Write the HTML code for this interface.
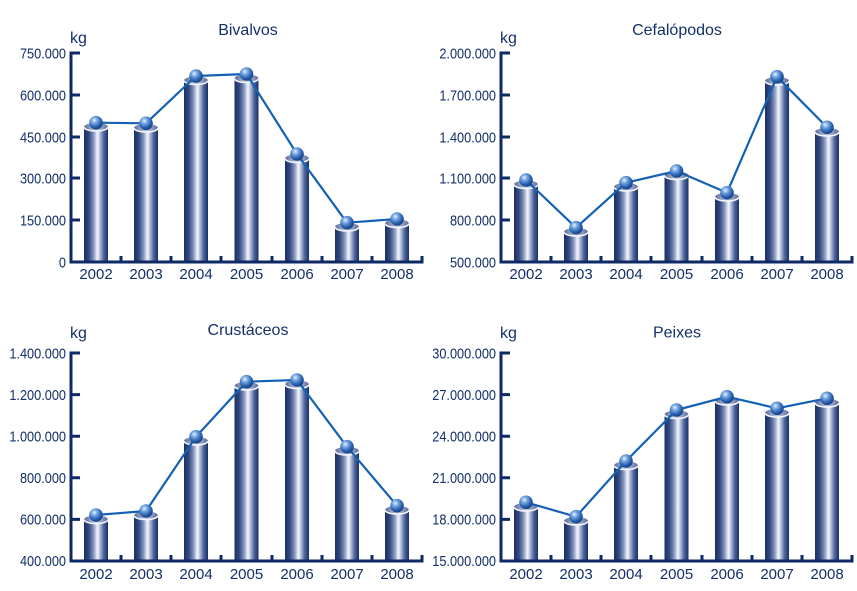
<!DOCTYPE html>
<html><head><meta charset="utf-8"><style>
html,body{margin:0;padding:0;background:#fff;}
svg{display:block;}
text{font-family:"Liberation Sans",Arial,sans-serif;fill:#14306a;}
.yl{font-size:15px;text-anchor:end;}
.xl{font-size:15px;text-anchor:middle;}
.t{font-size:16px;text-anchor:middle;}
.kg{font-size:16px;}
.ax{stroke:#0e2a66;stroke-width:3;fill:none;}
.ln{stroke:#1461b4;stroke-width:2.2;fill:none;stroke-linejoin:round;}
.rim{stroke:#f4f6fb;stroke-width:1.6;fill:none;}
</style></head><body>
<svg width="857" height="591" viewBox="0 0 857 591" xmlns="http://www.w3.org/2000/svg">
<defs>
<linearGradient id="bar" x1="0" y1="0" x2="1" y2="0">
<stop offset="0" stop-color="#1a2f66"/>
<stop offset="0.2" stop-color="#33497f"/>
<stop offset="0.4" stop-color="#8596c0"/>
<stop offset="0.56" stop-color="#f6f8fc"/>
<stop offset="0.64" stop-color="#c4cce2"/>
<stop offset="0.82" stop-color="#4c649c"/>
<stop offset="1" stop-color="#1a2f66"/>
</linearGradient>
<linearGradient id="cap" x1="0" y1="0" x2="1" y2="0">
<stop offset="0" stop-color="#5a6c9c"/>
<stop offset="0.5" stop-color="#c4cbe0"/>
<stop offset="1" stop-color="#5a6c9c"/>
</linearGradient>
<radialGradient id="mk" cx="0.38" cy="0.32" r="0.7">
<stop offset="0" stop-color="#eaf3ff"/>
<stop offset="0.3" stop-color="#78a8e4"/>
<stop offset="0.7" stop-color="#2a62b0"/>
<stop offset="1" stop-color="#123c80"/>
</radialGradient>
</defs>

<!-- ===== Panel 1: Bivalvos ===== -->
<text class="t" x="248" y="35">Bivalvos</text>
<text class="kg" x="70" y="43">kg</text>
<text class="yl" transform="translate(66,58.5) scale(0.85,1)">750.000</text>
<text class="yl" transform="translate(66,100.5) scale(0.85,1)">600.000</text>
<text class="yl" transform="translate(66,142.5) scale(0.85,1)">450.000</text>
<text class="yl" transform="translate(66,183.5) scale(0.85,1)">300.000</text>
<text class="yl" transform="translate(66,225.5) scale(0.85,1)">150.000</text>
<text class="yl" transform="translate(66,267.5) scale(0.85,1)">0</text>
<g>
<rect x="84" y="127" width="24" height="135" fill="url(#bar)"/><ellipse cx="96" cy="127" rx="12" ry="4" fill="url(#cap)"/><path class="rim" d="M84 127 A12 4 0 0 0 108 127"/>
<rect x="134" y="128" width="24" height="134" fill="url(#bar)"/><ellipse cx="146" cy="128" rx="12" ry="4" fill="url(#cap)"/><path class="rim" d="M134 128 A12 4 0 0 0 158 128"/>
<rect x="184" y="80.5" width="24" height="181.5" fill="url(#bar)"/><ellipse cx="196" cy="80.5" rx="12" ry="4" fill="url(#cap)"/><path class="rim" d="M184 80.5 A12 4 0 0 0 208 80.5"/>
<rect x="234.5" y="78.5" width="24" height="183.5" fill="url(#bar)"/><ellipse cx="246.5" cy="78.5" rx="12" ry="4" fill="url(#cap)"/><path class="rim" d="M234.5 78.5 A12 4 0 0 0 258.5 78.5"/>
<rect x="285" y="158.5" width="24" height="103.5" fill="url(#bar)"/><ellipse cx="297" cy="158.5" rx="12" ry="4" fill="url(#cap)"/><path class="rim" d="M285 158.5 A12 4 0 0 0 309 158.5"/>
<rect x="335" y="227" width="24" height="35" fill="url(#bar)"/><ellipse cx="347" cy="227" rx="12" ry="4" fill="url(#cap)"/><path class="rim" d="M335 227 A12 4 0 0 0 359 227"/>
<rect x="385" y="223.5" width="24" height="38.5" fill="url(#bar)"/><ellipse cx="397" cy="223.5" rx="12" ry="4" fill="url(#cap)"/><path class="rim" d="M385 223.5 A12 4 0 0 0 409 223.5"/>
</g>
<path class="ax" d="M80 53 H71 V262 H422 V256 M80 95 H71 M80 137 H71 M80 178 H71 M80 220 H71 M121 262 V256 M171 262 V256 M221 262 V256 M272 262 V256 M322 262 V256 M372 262 V256"/>
<polyline class="ln" points="96,122.7 146,123.3 196,76 246.5,74 297,154 347,222.7 397,219"/>
<g fill="url(#mk)">
<circle cx="96" cy="122.7" r="6.8"/><circle cx="146" cy="123.3" r="6.8"/><circle cx="196" cy="76" r="6.8"/><circle cx="246.5" cy="74" r="6.8"/><circle cx="297" cy="154" r="6.8"/><circle cx="347" cy="222.7" r="6.8"/><circle cx="397" cy="219" r="6.8"/>
</g>
<text class="xl" x="96" y="279">2002</text><text class="xl" x="146" y="279">2003</text><text class="xl" x="196" y="279">2004</text><text class="xl" x="246.5" y="279">2005</text><text class="xl" x="297" y="279">2006</text><text class="xl" x="347" y="279">2007</text><text class="xl" x="397" y="279">2008</text>

<!-- ===== Panel 2: Cefalópodos ===== -->
<text class="t" x="677" y="35">Cefalópodos</text>
<text class="kg" x="500" y="43">kg</text>
<text class="yl" transform="translate(496,58.5) scale(0.85,1)">2.000.000</text>
<text class="yl" transform="translate(496,100.5) scale(0.85,1)">1.700.000</text>
<text class="yl" transform="translate(496,142.5) scale(0.85,1)">1.400.000</text>
<text class="yl" transform="translate(496,183.5) scale(0.85,1)">1.100.000</text>
<text class="yl" transform="translate(496,225.5) scale(0.85,1)">800.000</text>
<text class="yl" transform="translate(496,267.5) scale(0.85,1)">500.000</text>
<g>
<rect x="514" y="184.5" width="24" height="77.5" fill="url(#bar)"/><ellipse cx="526" cy="184.5" rx="12" ry="4" fill="url(#cap)"/><path class="rim" d="M514 184.5 A12 4 0 0 0 538 184.5"/>
<rect x="564" y="232" width="24" height="30" fill="url(#bar)"/><ellipse cx="576" cy="232" rx="12" ry="4" fill="url(#cap)"/><path class="rim" d="M564 232 A12 4 0 0 0 588 232"/>
<rect x="614" y="187" width="24" height="75" fill="url(#bar)"/><ellipse cx="626" cy="187" rx="12" ry="4" fill="url(#cap)"/><path class="rim" d="M614 187 A12 4 0 0 0 638 187"/>
<rect x="664.5" y="175.5" width="24" height="86.5" fill="url(#bar)"/><ellipse cx="676.5" cy="175.5" rx="12" ry="4" fill="url(#cap)"/><path class="rim" d="M664.5 175.5 A12 4 0 0 0 688.5 175.5"/>
<rect x="715" y="197" width="24" height="65" fill="url(#bar)"/><ellipse cx="727" cy="197" rx="12" ry="4" fill="url(#cap)"/><path class="rim" d="M715 197 A12 4 0 0 0 739 197"/>
<rect x="765" y="81" width="24" height="181" fill="url(#bar)"/><ellipse cx="777" cy="81" rx="12" ry="4" fill="url(#cap)"/><path class="rim" d="M765 81 A12 4 0 0 0 789 81"/>
<rect x="815" y="132" width="24" height="130" fill="url(#bar)"/><ellipse cx="827" cy="132" rx="12" ry="4" fill="url(#cap)"/><path class="rim" d="M815 132 A12 4 0 0 0 839 132"/>
</g>
<path class="ax" d="M510 53 H501 V262 H852 V256 M510 95 H501 M510 137 H501 M510 178 H501 M510 220 H501 M551 262 V256 M601 262 V256 M651 262 V256 M702 262 V256 M752 262 V256 M802 262 V256"/>
<polyline class="ln" points="526,180 576,227.7 626,182.7 676.5,171 727,192.7 777,76.7 827,127.3"/>
<g fill="url(#mk)">
<circle cx="526" cy="180" r="6.8"/><circle cx="576" cy="227.7" r="6.8"/><circle cx="626" cy="182.7" r="6.8"/><circle cx="676.5" cy="171" r="6.8"/><circle cx="727" cy="192.7" r="6.8"/><circle cx="777" cy="76.7" r="6.8"/><circle cx="827" cy="127.3" r="6.8"/>
</g>
<text class="xl" x="526" y="279">2002</text><text class="xl" x="576" y="279">2003</text><text class="xl" x="626" y="279">2004</text><text class="xl" x="676.5" y="279">2005</text><text class="xl" x="727" y="279">2006</text><text class="xl" x="777" y="279">2007</text><text class="xl" x="827" y="279">2008</text>

<!-- ===== Panel 3: Crustáceos ===== -->
<text class="t" x="248" y="335">Crustáceos</text>
<text class="kg" x="70" y="338">kg</text>
<text class="yl" transform="translate(66,358.5) scale(0.85,1)">1.400.000</text>
<text class="yl" transform="translate(66,400) scale(0.85,1)">1.200.000</text>
<text class="yl" transform="translate(66,441.5) scale(0.85,1)">1.000.000</text>
<text class="yl" transform="translate(66,483) scale(0.85,1)">800.000</text>
<text class="yl" transform="translate(66,524.5) scale(0.85,1)">600.000</text>
<text class="yl" transform="translate(66,566) scale(0.85,1)">400.000</text>
<g>
<rect x="84" y="519.5" width="24" height="41.5" fill="url(#bar)"/><ellipse cx="96" cy="519.5" rx="12" ry="4" fill="url(#cap)"/><path class="rim" d="M84 519.5 A12 4 0 0 0 108 519.5"/>
<rect x="134" y="515.5" width="24" height="45.5" fill="url(#bar)"/><ellipse cx="146" cy="515.5" rx="12" ry="4" fill="url(#cap)"/><path class="rim" d="M134 515.5 A12 4 0 0 0 158 515.5"/>
<rect x="184" y="441" width="24" height="120" fill="url(#bar)"/><ellipse cx="196" cy="441" rx="12" ry="4" fill="url(#cap)"/><path class="rim" d="M184 441 A12 4 0 0 0 208 441"/>
<rect x="234.5" y="386" width="24" height="175" fill="url(#bar)"/><ellipse cx="246.5" cy="386" rx="12" ry="4" fill="url(#cap)"/><path class="rim" d="M234.5 386 A12 4 0 0 0 258.5 386"/>
<rect x="285" y="384.5" width="24" height="176.5" fill="url(#bar)"/><ellipse cx="297" cy="384.5" rx="12" ry="4" fill="url(#cap)"/><path class="rim" d="M285 384.5 A12 4 0 0 0 309 384.5"/>
<rect x="335" y="451" width="24" height="110" fill="url(#bar)"/><ellipse cx="347" cy="451" rx="12" ry="4" fill="url(#cap)"/><path class="rim" d="M335 451 A12 4 0 0 0 359 451"/>
<rect x="385" y="510" width="24" height="51" fill="url(#bar)"/><ellipse cx="397" cy="510" rx="12" ry="4" fill="url(#cap)"/><path class="rim" d="M385 510 A12 4 0 0 0 409 510"/>
</g>
<path class="ax" d="M80 353 H71 V561 H422 V555 M80 394.6 H71 M80 436.2 H71 M80 477.8 H71 M80 519.4 H71 M121 561 V555 M171 561 V555 M221 561 V555 M272 561 V555 M322 561 V555 M372 561 V555"/>
<polyline class="ln" points="96,515 146,511 196,436.7 246.5,381.7 297,380 347,446.7 397,505.7"/>
<g fill="url(#mk)">
<circle cx="96" cy="515" r="6.8"/><circle cx="146" cy="511" r="6.8"/><circle cx="196" cy="436.7" r="6.8"/><circle cx="246.5" cy="381.7" r="6.8"/><circle cx="297" cy="380" r="6.8"/><circle cx="347" cy="446.7" r="6.8"/><circle cx="397" cy="505.7" r="6.8"/>
</g>
<text class="xl" x="96" y="579">2002</text><text class="xl" x="146" y="579">2003</text><text class="xl" x="196" y="579">2004</text><text class="xl" x="246.5" y="579">2005</text><text class="xl" x="297" y="579">2006</text><text class="xl" x="347" y="579">2007</text><text class="xl" x="397" y="579">2008</text>

<!-- ===== Panel 4: Peixes ===== -->
<text class="t" x="677" y="337.5">Peixes</text>
<text class="kg" x="500" y="338">kg</text>
<text class="yl" transform="translate(496,358.5) scale(0.85,1)">30.000.000</text>
<text class="yl" transform="translate(496,400) scale(0.85,1)">27.000.000</text>
<text class="yl" transform="translate(496,441.5) scale(0.85,1)">24.000.000</text>
<text class="yl" transform="translate(496,483) scale(0.85,1)">21.000.000</text>
<text class="yl" transform="translate(496,524.5) scale(0.85,1)">18.000.000</text>
<text class="yl" transform="translate(496,566) scale(0.85,1)">15.000.000</text>
<g>
<rect x="514" y="507" width="24" height="54" fill="url(#bar)"/><ellipse cx="526" cy="507" rx="12" ry="4" fill="url(#cap)"/><path class="rim" d="M514 507 A12 4 0 0 0 538 507"/>
<rect x="564" y="521" width="24" height="40" fill="url(#bar)"/><ellipse cx="576" cy="521" rx="12" ry="4" fill="url(#cap)"/><path class="rim" d="M564 521 A12 4 0 0 0 588 521"/>
<rect x="614" y="465.5" width="24" height="95.5" fill="url(#bar)"/><ellipse cx="626" cy="465.5" rx="12" ry="4" fill="url(#cap)"/><path class="rim" d="M614 465.5 A12 4 0 0 0 638 465.5"/>
<rect x="664.5" y="414.5" width="24" height="146.5" fill="url(#bar)"/><ellipse cx="676.5" cy="414.5" rx="12" ry="4" fill="url(#cap)"/><path class="rim" d="M664.5 414.5 A12 4 0 0 0 688.5 414.5"/>
<rect x="715" y="401" width="24" height="160" fill="url(#bar)"/><ellipse cx="727" cy="401" rx="12" ry="4" fill="url(#cap)"/><path class="rim" d="M715 401 A12 4 0 0 0 739 401"/>
<rect x="765" y="413" width="24" height="148" fill="url(#bar)"/><ellipse cx="777" cy="413" rx="12" ry="4" fill="url(#cap)"/><path class="rim" d="M765 413 A12 4 0 0 0 789 413"/>
<rect x="815" y="403" width="24" height="158" fill="url(#bar)"/><ellipse cx="827" cy="403" rx="12" ry="4" fill="url(#cap)"/><path class="rim" d="M815 403 A12 4 0 0 0 839 403"/>
</g>
<path class="ax" d="M510 353 H501 V561 H852 V555 M510 394.6 H501 M510 436.2 H501 M510 477.8 H501 M510 519.4 H501 M551 561 V555 M601 561 V555 M651 561 V555 M702 561 V555 M752 561 V555 M802 561 V555"/>
<polyline class="ln" points="526,502.3 576,516.7 626,461 676.5,410 727,396.7 777,408.3 827,398.3"/>
<g fill="url(#mk)">
<circle cx="526" cy="502.3" r="6.8"/><circle cx="576" cy="516.7" r="6.8"/><circle cx="626" cy="461" r="6.8"/><circle cx="676.5" cy="410" r="6.8"/><circle cx="727" cy="396.7" r="6.8"/><circle cx="777" cy="408.3" r="6.8"/><circle cx="827" cy="398.3" r="6.8"/>
</g>
<text class="xl" x="526" y="579">2002</text><text class="xl" x="576" y="579">2003</text><text class="xl" x="626" y="579">2004</text><text class="xl" x="676.5" y="579">2005</text><text class="xl" x="727" y="579">2006</text><text class="xl" x="777" y="579">2007</text><text class="xl" x="827" y="579">2008</text>
</svg>
</body></html>
